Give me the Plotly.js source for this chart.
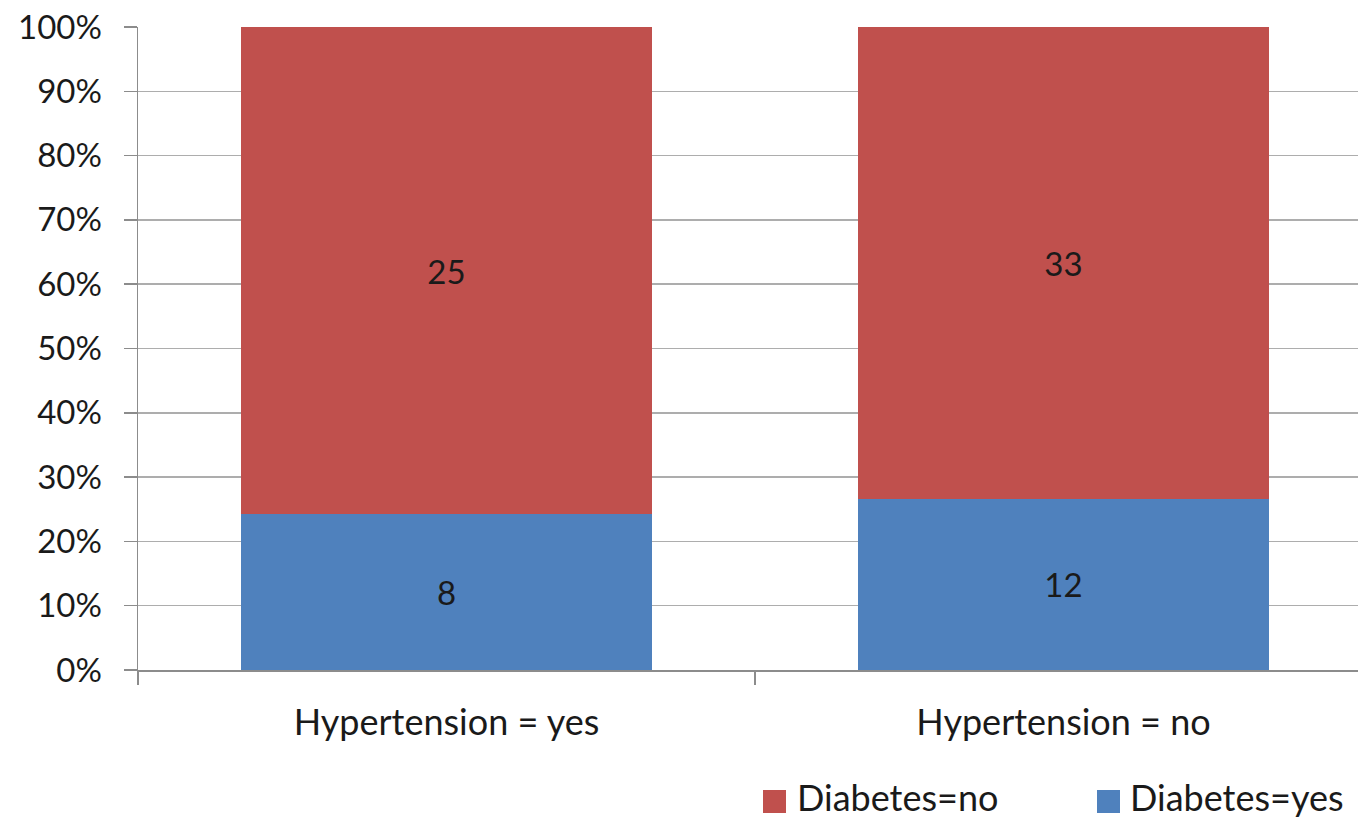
<!DOCTYPE html>
<html>
<head>
<meta charset="utf-8">
<script src="https://cdn.plot.ly/plotly-3.0.1.min.js"></script>
<style>
  html, body { margin: 0; padding: 0; background: #ffffff; }
  #chart { width: 1358px; height: 818px; }
</style>
</head>
<body>
<div id="chart"></div>
<script>
// Patient counts by hypertension status, split by diabetes status
const categories = ['Hypertension = yes', 'Hypertension = no'];
const seriesNames = ['Diabetes=yes', 'Diabetes=no'];
const diabetesYes = [8, 12];
const diabetesNo = [25, 33];
const seriesColors = ['#4F81BD', '#C0504D'];
const yTickValues = [0, 10, 20, 30, 40, 50, 60, 70, 80, 90, 100];

const FONT = 'Lato, "Open Sans", sans-serif';
const TEXT_COLOR = '#1a1a1a';

const seriesValues = [diabetesYes, diabetesNo];
const traces = seriesValues.map((vals, i) => ({
  type: 'bar',
  name: seriesNames[i],
  x: categories,
  y: vals,
  text: vals.map(String),
  textposition: 'inside',
  insidetextanchor: 'middle',
  textangle: 0,
  textfont: { family: FONT, size: 33, color: TEXT_COLOR },
  marker: { color: seriesColors[i], line: { width: 0 } },
  width: 0.666,
  hoverinfo: 'x+y+name'
}));

// Plot area spans x 138..1358 and y 27..670 in page pixels
const plotLeft = 138, plotRight = 1358, plotTop = 27, plotBottom = 670;
const px = v => (v - plotLeft) / (plotRight - plotLeft);
const py = v => (plotBottom - v) / (plotBottom - plotTop);

// Legend drawn as swatches + labels, listed with Diabetes=no first
const legendItems = [
  { name: seriesNames[1], color: seriesColors[1], sx0: 763, sx1: 786, tx: 796 },
  { name: seriesNames[0], color: seriesColors[0], sx0: 1097, sx1: 1120, tx: 1129 }
];
const shapes = legendItems.map(it => ({
  type: 'rect', xref: 'paper', yref: 'paper',
  x0: px(it.sx0), x1: px(it.sx1), y0: py(790), y1: py(813),
  fillcolor: it.color, line: { width: 0 }
}));
const annotations = legendItems.map(it => ({
  xref: 'paper', yref: 'paper', x: px(it.tx), y: py(797),
  xanchor: 'left', yanchor: 'middle', showarrow: false,
  borderpad: 0,
  text: it.name, font: { family: FONT, size: 36, color: TEXT_COLOR }
}));

const layout = {
  width: 1358,
  height: 818,
  margin: { l: plotLeft, r: 1358 - plotRight, t: plotTop, b: 818 - plotBottom, pad: 0 },
  paper_bgcolor: '#ffffff',
  plot_bgcolor: '#ffffff',
  barmode: 'stack',
  barnorm: 'percent',
  showlegend: false,
  font: { family: FONT, color: TEXT_COLOR },
  xaxis: {
    type: 'category',
    range: [-0.5, 1.5 - 14 / 617],
    tickson: 'boundaries',
    ticks: 'outside',
    ticklen: 13,
    tickwidth: 1.5,
    tickcolor: '#8c8c8c',
    showline: true,
    linecolor: '#8c8c8c',
    linewidth: 1.5,
    showgrid: false,
    zeroline: false,
    tickfont: { family: FONT, size: 36, color: TEXT_COLOR },
    ticklabelstandoff: 20
  },
  yaxis: {
    range: [0, 100],
    tickvals: yTickValues,
    ticktext: yTickValues.map(v => v + '%'),
    ticks: 'outside',
    ticklen: 13,
    tickwidth: 1.5,
    tickcolor: '#8c8c8c',
    showline: true,
    linecolor: '#8c8c8c',
    linewidth: 1.5,
    showgrid: true,
    gridcolor: '#adadad',
    gridwidth: 1.5,
    zeroline: false,
    tickfont: { family: FONT, size: 33, color: TEXT_COLOR },
    ticklabelstandoff: 15
  },
  shapes: shapes,
  annotations: annotations
};

Plotly.newPlot('chart', traces, layout, { displayModeBar: false, staticPlot: true });
</script>
</body>
</html>
